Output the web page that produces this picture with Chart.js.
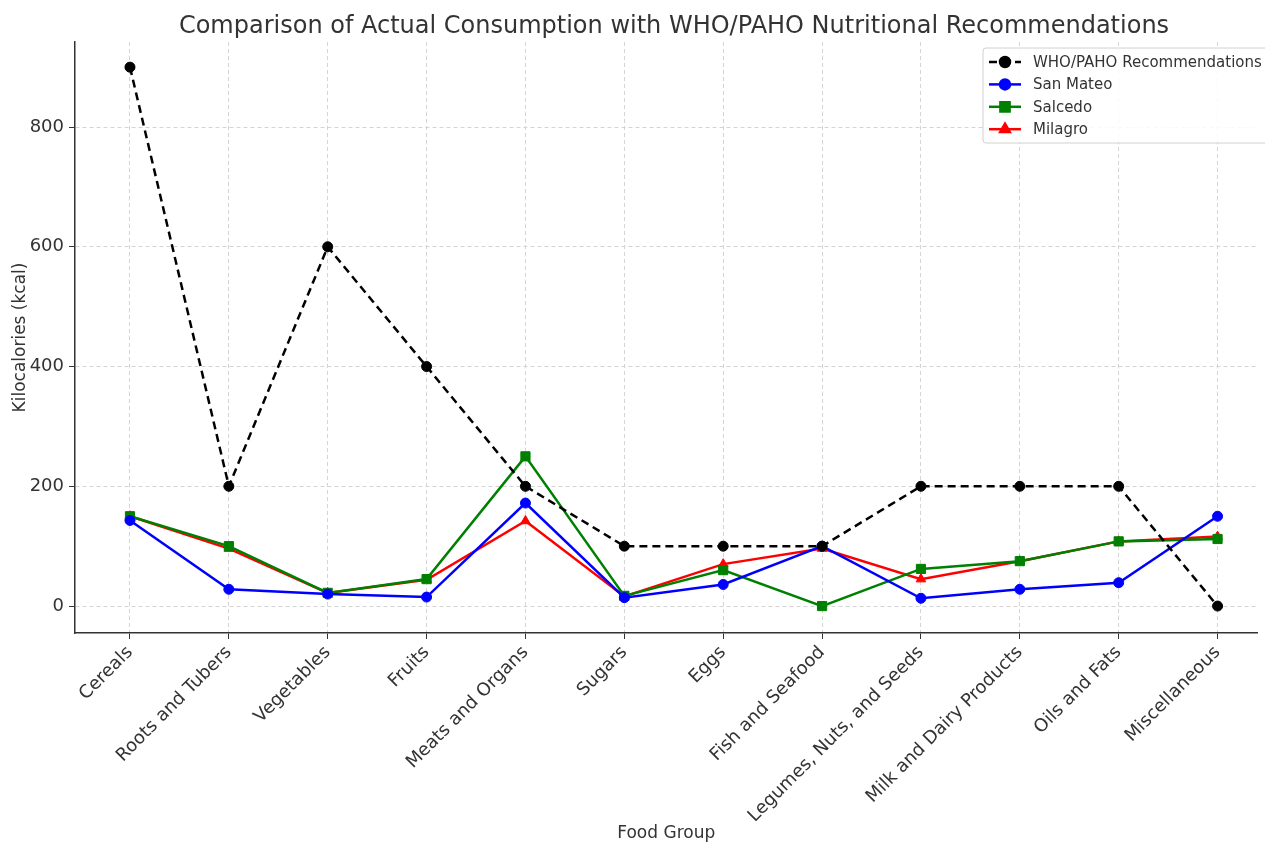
<!DOCTYPE html>
<html>
<head>
<meta charset="utf-8">
<script src="https://cdn.jsdelivr.net/npm/chart.js@4"></script>
<style>
  body { margin: 0; background: #fff; }
  #wrap { width: 1265px; height: 845px; }
</style>
</head>
<body>
<div id="wrap"><canvas id="foodChart" width="1265" height="845"></canvas></div>
<script>
var foodGroups = ["Cereals", "Roots and Tubers", "Vegetables", "Fruits", "Meats and Organs", "Sugars",
    "Eggs", "Fish and Seafood", "Legumes, Nuts, and Seeds", "Milk and Dairy Products", "Oils and Fats", "Miscellaneous"];
var whoPaho   = [900, 200, 600, 400, 200, 100, 100, 100, 200, 200, 200, 0];
var sanMateo  = [143, 28, 20, 15, 172, 14, 36, 100, 13, 28, 39, 150];
var salcedo   = [150, 100, 22, 45, 250, 17, 60, 0, 62, 75, 108, 112];
var milagro   = [150, 96, 22, 44, 142, 16, 70, 96, 45, 75, 108, 116];
var yTicks    = [0, 200, 400, 600, 800];
var chartTitle = "Comparison of Actual Consumption with WHO/PAHO Nutritional Recommendations";

var textColor = "#333";
var fontName = "'DejaVu Sans', sans-serif";

function toPoints(arr) {
    return arr.map(function (v, i) { return { x: i, y: v }; });
}

// title centred over the plot area (matplotlib style), not the canvas
var plotTitle = {
    id: "plotTitle",
    afterDraw: function (chart) {
        var c = chart.ctx;
        var area = chart.chartArea;
        c.save();
        c.fillStyle = textColor;
        c.font = "24px " + fontName;
        c.textAlign = "center";
        c.textBaseline = "alphabetic";
        c.fillText(chartTitle, (area.left + 1273) / 2, 33);
        c.restore();
    }
};

// legend drawn inside the plot, top right, like the original
var boxLegend = {
    id: "boxLegend",
    afterDraw: function (chart) {
        var c = chart.ctx;
        var x0 = 983, y0 = 48, w = 295, h = 95;
        c.save();
        c.fillStyle = "rgba(255,255,255,0.85)";
        c.strokeStyle = "#d0d0d0";
        c.lineWidth = 1;
        c.beginPath();
        c.roundRect(x0, y0, w, h, 3);
        c.fill();
        c.stroke();
        chart.data.datasets.forEach(function (ds, i) {
            var y = y0 + 14 + i * 22.4;
            c.strokeStyle = ds.borderColor;
            c.lineWidth = 2.5;
            c.setLineDash(ds.borderDash || []);
            c.beginPath();
            c.moveTo(989, y);
            c.lineTo(1021, y);
            c.stroke();
            c.setLineDash([]);
            Chart.helpers.drawPoint(c, {
                pointStyle: ds.pointStyle,
                radius: ds.pointRadius,
                rotation: 0,
                borderWidth: 1
            }, 1005, y);
            c.fillStyle = ds.borderColor;
            c.fill();
            c.fillStyle = textColor;
            c.font = "15px " + fontName;
            c.textBaseline = "middle";
            c.textAlign = "left";
            c.fillText(ds.label, 1033, y + 1);
        });
        c.restore();
    }
};

var ctx = document.getElementById("foodChart").getContext("2d");

var data = {
    datasets: [
        {
            label: "WHO/PAHO Recommendations",
            data: toPoints(whoPaho),
            borderColor: "#000000",
            backgroundColor: "#000000",
            borderDash: [8, 5],
            pointStyle: "circle",
            pointRadius: 5
        },
        {
            label: "San Mateo",
            data: toPoints(sanMateo),
            borderColor: "#0000ff",
            backgroundColor: "#0000ff",
            pointStyle: "circle",
            pointRadius: 5
        },
        {
            label: "Salcedo",
            data: toPoints(salcedo),
            borderColor: "#008000",
            backgroundColor: "#008000",
            pointStyle: "rect",
            pointRadius: 6.5
        },
        {
            label: "Milagro",
            data: toPoints(milagro),
            borderColor: "#ff0000",
            backgroundColor: "#ff0000",
            pointStyle: "triangle",
            pointRadius: 5.5
        }
    ]
};

var options = {
    responsive: false,
    animation: false,
    devicePixelRatio: 1,
    layout: { padding: { left: 0, right: 0, top: 42, bottom: 0 } },
    elements: {
        line: { borderWidth: 2.5, tension: 0, fill: false },
        point: { borderWidth: 1 }
    },
    plugins: {
        legend: { display: false },
        tooltip: { enabled: false },
        title: { display: false }
    },
    scales: {
        x: {
            type: "linear",
            min: -0.556,
            max: 11.404,
            afterBuildTicks: function (scale) {
                scale.ticks = foodGroups.map(function (c, i) { return { value: i }; });
            },
            afterFit: function (scale) { scale.height = 212; },
            ticks: {
                autoSkip: false,
                minRotation: 45,
                maxRotation: 45,
                padding: 3,
                color: textColor,
                font: { family: fontName, size: 18 },
                callback: function (v) { return foodGroups[v]; }
            },
            grid: { color: "#d4d4d4", tickColor: "#333", tickLength: 6, lineWidth: 1 },
            border: { display: true, color: "#333", width: 1.5, dash: [4, 3] },
            title: {
                display: true,
                text: "Food Group",
                color: textColor,
                font: { family: fontName, size: 17 },
                padding: { top: 4, bottom: 1 }
            }
        },
        y: {
            type: "linear",
            min: -45,
            max: 942,
            afterBuildTicks: function (scale) {
                scale.ticks = yTicks.map(function (v) { return { value: v }; });
            },
            afterFit: function (scale) { scale.width = 75; },
            ticks: {
                padding: 5,
                color: textColor,
                font: { family: fontName, size: 18 }
            },
            grid: { color: "#d4d4d4", tickColor: "#333", tickLength: 6, lineWidth: 1 },
            border: { display: true, color: "#333", width: 1.5, dash: [4, 3] },
            title: {
                display: true,
                text: "Kilocalories (kcal)",
                color: textColor,
                font: { family: fontName, size: 17 },
                padding: { top: 10, bottom: 4 }
            }
        }
    }
};

var myChart = new Chart(ctx, {
    type: "line",
    data: data,
    options: options,
    plugins: [plotTitle, boxLegend]
});
</script>
</body>
</html>
